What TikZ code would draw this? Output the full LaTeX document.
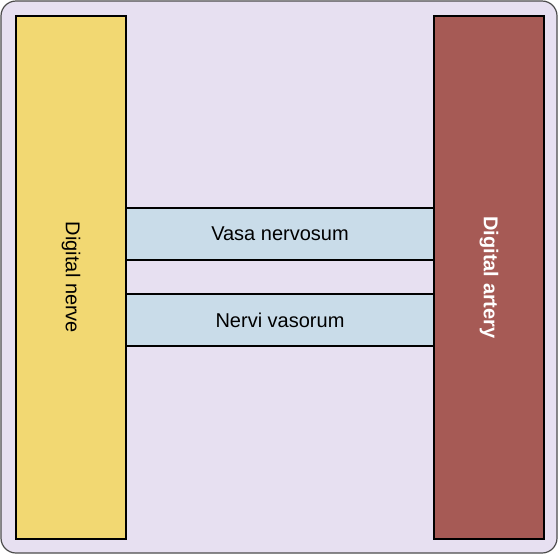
\documentclass[tikz,border=0pt]{standalone}
\usepackage{fontspec}
\setmainfont{Liberation Sans}
\usepackage{tikz}
\definecolor{bgl}{HTML}{E7E0F1}
\definecolor{nervey}{HTML}{F2D872}
\definecolor{arteryr}{HTML}{A65A55}
\definecolor{vasab}{HTML}{C9DCE9}
\tikzset{
  bg/.style={draw=black!70,line width=1.2pt,fill=bgl,rounded corners=15pt},
  trunk/.style={draw=black,line width=2pt,minimum width=523pt,minimum height=110pt,inner sep=0pt,rotate=-90},
  link/.style={draw=black,line width=2pt,fill=vasab,minimum width=310pt,minimum height=52pt,inner sep=0pt},
  lbl/.style={font=\fontsize{20}{24}\selectfont}
}
\begin{document}
\begin{tikzpicture}[x=1pt,y=-1pt]
\useasboundingbox (0,0) rectangle (560,555);
\draw[bg] (1,1) rectangle (557,553);
\node[link,lbl] (vn) at (280,234) {Vasa nervosum};
\node[link,lbl] (nv) at (280,320) {Nervi vasorum};
\node[trunk,lbl,fill=nervey] (nerve) at (71,277.5) {Digital nerve};
\node[trunk,lbl,fill=arteryr,text=white,font=\fontsize{20}{24}\selectfont\bfseries] (artery) at (489,277.5) {Digital artery};
\end{tikzpicture}
\end{document}
